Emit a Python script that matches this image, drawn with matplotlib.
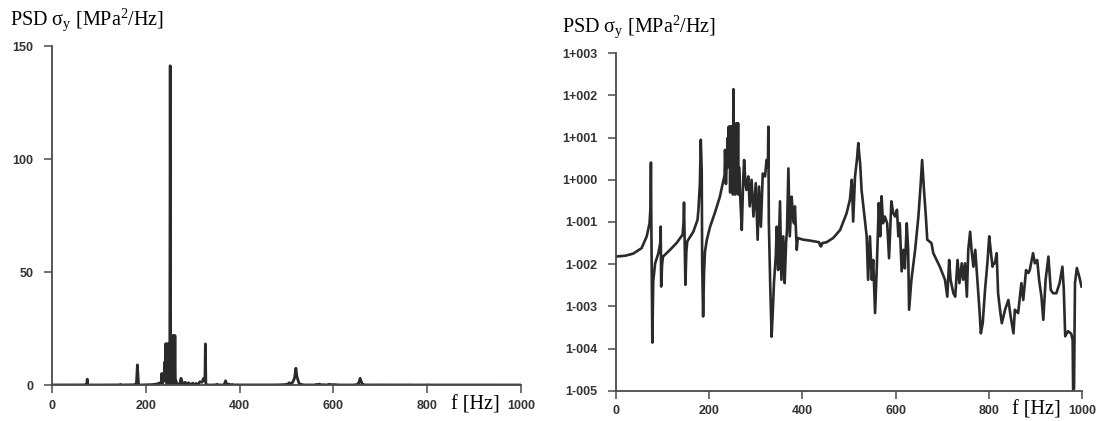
import matplotlib
matplotlib.use('Agg')
import matplotlib.pyplot as plt
import numpy as np

# frequency [Hz] and PSD (stored as log10 of MPa^2/Hz)
freq = [0, 20, 37, 55, 66, 72, 74, 75, 76, 78,
        80, 84, 91, 95, 96, 97, 99, 101, 116, 130,
        143, 145, 146, 147, 149, 151, 153, 166, 175, 177,
        180, 182, 184, 185, 187, 189, 191, 195, 202, 212,
        223, 230, 233, 234, 236, 238, 239, 240, 241, 242,
        243, 244, 245, 246, 247, 248, 249, 250, 251, 252,
        253, 254, 255, 256, 257, 258, 259, 260, 261, 262,
        263, 264, 265, 267, 270, 273, 275, 278, 280, 284,
        287, 291, 295, 300, 304, 307, 311, 315, 320, 323,
        326, 327, 328, 331, 334, 337, 339, 343, 345, 348,
        352, 355, 359, 362, 365, 367, 370, 373, 377, 380,
        382, 384, 388, 390, 402, 416, 436, 438, 440, 443,
        452, 466, 481, 495, 502, 506, 509, 513, 517, 520,
        522, 524, 527, 534, 538, 541, 545, 549, 552, 556,
        560, 564, 567, 570, 573, 577, 582, 586, 591, 595,
        599, 603, 606, 609, 613, 617, 620, 624, 627, 629,
        634, 642, 649, 654, 657, 661, 665, 668, 677, 681,
        695, 706, 711, 715, 718, 724, 728, 733, 737, 742,
        745, 749, 753, 756, 760, 763, 767, 771, 774, 780,
        783, 787, 792, 797, 801, 804, 808, 810, 813, 817,
        820, 825, 828, 835, 842, 847, 853, 856, 863, 870,
        874, 880, 885, 888, 895, 899, 904, 908, 913, 917,
        922, 928, 933, 938, 945, 952, 958, 961, 964, 970,
        977, 980, 981, 983, 985, 989, 994, 999]
psd_log10 = [-1.82, -1.80, -1.75, -1.62, -1.34, -1.03, -0.67, 0.41, -1.2, -3.86,
             -2.4, -1.98, -1.74, -1.5, -1.11, -2.53, -2.0, -1.82, -1.66, -1.50,
             -1.30, -1.0, -0.54, -1.2, -2.49, -1.7, -1.46, -1.23, -0.95, -0.7,
             -0.1, 0.95, 0.2, -2.0, -3.24, -2.2, -1.7, -1.42, -1.11, -0.79,
             -0.40, -0.04, 0.1, 0.71, -0.1, 0.5, 0.3, 1.0, 0.3, 1.26,
             0.4, 1.26, -0.3, 1.26, 0.5, 1.26, 0.4, 1.26, -0.35, 2.15,
             0.9, 1.1, 0.2, -0.35, 1.0, 1.34, 0.3, 1.34, 0.0, 1.34,
             -0.35, 0.3, 0.1, -0.5, -1.19, 0.0, 0.47, -0.1, -0.24, 0.08,
             -0.63, 0.0, -0.87, -0.08, -1.42, -0.16, -1.11, 0.15, 0.08, 0.47,
             0.3, 1.26, -1.0, -2.5, -3.72, -3.0, -2.45, -1.8, -1.11, -2.14,
             -0.51, -2.37, -1.34, -2.45, -1.5, -1.19, 0.27, -1.34, -0.40, -0.9,
             -1.03, -0.63, -1.66, -1.38, -1.42, -1.44, -1.48, -1.56, -1.58, -1.50,
             -1.48, -1.38, -1.19, -0.79, -0.47, 0.0, -0.99, 0.08, 0.47, 0.87,
             0.6, 0.39, -0.24, -0.95, -1.34, -2.37, -1.34, -2.37, -1.90, -3.16,
             -1.98, -0.55, -1.34, -0.39, -1.03, -0.87, -1.03, -1.86, -0.51, -0.79,
             -0.87, -0.71, -1.34, -1.03, -2.17, -1.66, -2.1, -1.03, -1.66, -3.08,
             -2.37, -1.66, -0.87, -0.08, 0.47, -0.24, -0.87, -1.42, -1.50, -1.74,
             -2.06, -2.37, -2.77, -1.90, -2.37, -2.69, -2.77, -1.90, -2.45, -1.98,
             -2.37, -1.98, -2.77, -1.66, -1.23, -1.66, -2.06, -1.66, -2.14, -3.08,
             -3.64, -3.40, -2.61, -1.98, -1.34, -1.66, -2.06, -1.98, -1.98, -1.74,
             -2.69, -3.16, -3.40, -3.08, -2.85, -3.24, -3.64, -3.08, -3.16, -2.45,
             -2.85, -2.14, -2.21, -2.14, -1.74, -1.98, -1.9, -2.37, -2.77, -3.32,
             -2.37, -1.82, -2.61, -2.69, -2.69, -2.45, -2.06, -2.6, -3.71, -3.59,
             -3.65, -3.8, -4.98, -4.95, -2.45, -2.09, -2.29, -2.53]

x_ticks = [0, 200, 400, 600, 800, 1000]
lin_ticks = [0, 50, 100, 150]
log_ticks = [1e-5, 1e-4, 1e-3, 1e-2, 1e-1, 1e0, 1e1, 1e2, 1e3]
log_labels = ['1-005', '1-004', '1-003', '1-002', '1-001',
              '1+000', '1+001', '1+002', '1+003']

plt.rcParams['mathtext.fontset'] = 'custom'
plt.rcParams['mathtext.rm'] = 'Liberation Serif'
plt.rcParams['mathtext.it'] = 'Liberation Serif'
plt.rcParams['mathtext.bf'] = 'Liberation Serif'

psd = 10 ** np.array(psd_log10)
line_col = '#2a2a2a'
axis_col = '#4a4a4a'
title = r'PSD $\sigma_y$ [MPa$^2$/Hz]'

fig = plt.figure(figsize=(10.98, 4.21), dpi=100)
ax1 = fig.add_axes([0.0474, 0.0855, 0.4271, 0.8052])
ax2 = fig.add_axes([0.5610, 0.0720, 0.4244, 0.8014])

ax1.plot(freq, psd, color=line_col, lw=2.0)
ax1.set_xlim(0, 1000)
ax1.set_ylim(0, 150)
ax1.set_yticks(lin_ticks)

ax2.semilogy(freq, psd, color=line_col, lw=1.9)
ax2.set_xlim(0, 1000)
ax2.set_ylim(1e-5, 1e3)
ax2.set_yticks(log_ticks)
ax2.set_yticklabels(log_labels)
ax2.minorticks_off()

for ax in (ax1, ax2):
    ax.set_xticks(x_ticks)
    for s in ('top', 'right'):
        ax.spines[s].set_visible(False)
    for s in ('left', 'bottom'):
        ax.spines[s].set_color(axis_col)
        ax.spines[s].set_linewidth(1.3)
    ax.tick_params(axis='both', length=5.5, width=1.1, color=axis_col,
                   labelcolor='#333333', labelsize=9)
    ax.tick_params(axis='y', pad=8)
    ax.tick_params(axis='x', pad=5)
    for lab in ax.get_xticklabels() + ax.get_yticklabels():
        lab.set_fontfamily('Liberation Sans')
        lab.set_fontweight('bold')
    ax.text(0.903, -0.058, 'f [Hz]', transform=ax.transAxes, ha='center', va='center',
            family='Liberation Serif', fontsize=14.5)

fig.text(0.009, 0.94, title, family='Liberation Serif', fontsize=14.5, va='baseline')
fig.text(0.512, 0.925, title, family='Liberation Serif', fontsize=14.5, va='baseline')

fig.savefig('out.png', dpi=100)
